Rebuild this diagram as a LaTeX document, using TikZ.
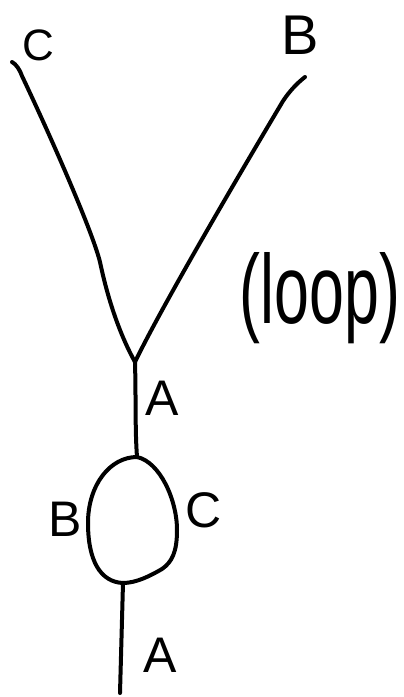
\documentclass[tikz,border=0pt]{standalone}
\usepackage{fontspec}
\setmainfont{Liberation Sans}
\usepackage{graphicx}
\tikzset{
  stroke/.style={line width=4pt, line cap=round, line join=round},
  lbl/.style={inner sep=0pt, font=\fontsize{50}{50}\selectfont},
}
\begin{document}
\begin{tikzpicture}[x=1pt,y=-1pt]
\useasboundingbox[fill=white] (0,0) rectangle (404,697);
% coordinates
\coordinate (Ctop) at (12,62);
\coordinate (Btop) at (305,77);
\coordinate (J) at (135,362);
\coordinate (LT) at (137,457);
\coordinate (LB) at (123,583);
\coordinate (Bot) at (120,693);
% branches
\draw[stroke] (Ctop) .. controls (16,64) and (20,70) .. (22,76)
  .. controls (50,135) and (92,230) .. (100,262)
  .. controls (108,300) and (120,335) .. (J);
\draw[stroke] (Btop) .. controls (296,84) and (289,92) .. (283,101)
  .. controls (230,190) and (160,310) .. (J);
% stems
\draw[stroke] (J) .. controls (136,400) and (135,430) .. (LT);
\draw[stroke] (LB) -- (Bot);
% loop
\draw[stroke] (LT) .. controls (160,462) and (177,500) .. (177,530)
  .. controls (177,552) and (172,562) .. (162,569)
  .. controls (150,576) and (136,583) .. (LB)
  .. controls (100,582) and (88,560) .. (88,523)
  .. controls (88,485) and (110,457) .. (LT);
% labels
\node[lbl, font=\fontsize{44}{44}\selectfont] (labCtop) at (38,45) {C};
\node[lbl, font=\fontsize{56}{56}\selectfont] (labBtop) at (300,35) {B};
\node[lbl] (labA1) at (162,398) {A};
\node[lbl] (labB) at (65,519) {B};
\node[lbl] (labC) at (204,510) {C};
\node[lbl] (labA2) at (160,655) {A};
\node[inner sep=0pt, font=\fontsize{98}{98}\selectfont] (loop) at (320,298) {\scalebox{0.64}[1]{(loop)}};
\end{tikzpicture}
\end{document}
